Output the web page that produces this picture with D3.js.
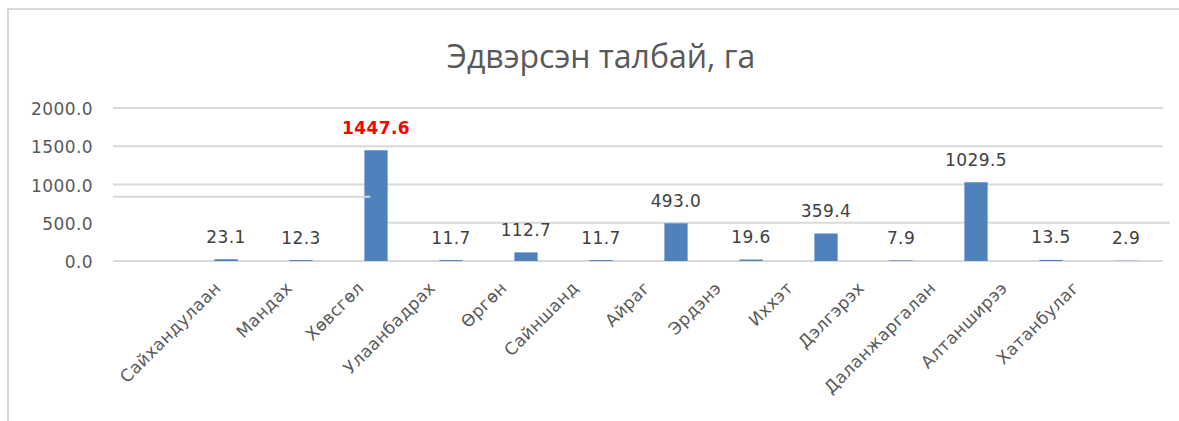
<!DOCTYPE html>
<html>
<head>
<meta charset="utf-8">
<script src="https://cdn.jsdelivr.net/npm/d3@7"></script>
<style>
  html, body { margin: 0; padding: 0; background: #fff; }
  svg { display: block; }
</style>
</head>
<body>
<div id="chart"></div>
<script>
(function () {

  // categories (the first slot of the source sheet is empty)
  var CATEGORIES = ["", "Сайхандулаан", "Мандах", "Хөвсгөл", "Улаанбадрах", "Өргөн",
    "Сайншанд", "Айраг", "Эрдэнэ", "Иххэт", "Дэлгэрэх", "Даланжаргалан",
    "Алтанширээ", "Хатанбулаг"];
  var VALUES = [null, 23.1, 12.3, 1447.6, 11.7, 112.7, 11.7, 493.0, 19.6, 359.4,
    7.9, 1029.5, 13.5, 2.9];
  var Y_TICKS = [0, 500, 1000, 1500, 2000];
  var HIGHLIGHT = "Хөвсгөл";

  var W = 1179, H = 421;
  var FONT = "'DejaVu Sans', sans-serif";

  var svg = d3.select("#chart").append("svg")
    .attr("width", W).attr("height", H)
    .style("font-family", FONT);

  // ── Frame (only top and left edges show) ───────────────────────────────
  svg.append("line").attr("x1", 7).attr("x2", W).attr("y1", 9).attr("y2", 9)
    .attr("stroke", "#d9d9d9").attr("stroke-width", 2);
  svg.append("line").attr("x1", 8).attr("x2", 8).attr("y1", 9).attr("y2", H)
    .attr("stroke", "#d9d9d9").attr("stroke-width", 2);

  // ── Title ─────────────────────────────────────────────────────────────
  svg.append("text")
    .attr("x", 601).attr("y", 68)
    .attr("text-anchor", "middle")
    .attr("font-family", "'Open Sans', sans-serif")
    .attr("font-size", "32px")
    .attr("fill", "#595959")
    .text("Эдвэрсэн талбай, га");

  // ── Scales ────────────────────────────────────────────────────────────
  var x = d3.scaleBand()
    .domain(CATEGORIES)
    .range([113.5, 1163.5])
    .paddingInner(0.69)
    .paddingOuter(0.345);

  var y = d3.scaleLinear().domain([0, 2000]).range([261, 108]);

  // label positions drift from the bars in the source picture
  var xLab = d3.scalePoint()
    .domain(CATEGORIES.slice(1))
    .range([222, 1080]);

  // ── Gridlines ─────────────────────────────────────────────────────────
  var grid = svg.append("g").attr("class", "grid")
    .attr("stroke", "#d9d9d9").attr("stroke-width", 2);

  Y_TICKS.forEach(function (t) {
    if (t === 500) return;
    grid.append("line")
      .attr("x1", 113).attr("x2", 1163)
      .attr("y1", y(t)).attr("y2", y(t));
  });
  // the 500 line is broken in the source image: left piece shifted up
  var hx = x(HIGHLIGHT);
  grid.append("line")
    .attr("x1", hx + x.bandwidth()).attr("x2", 1170)
    .attr("y1", y(500)).attr("y2", y(500));
  grid.append("line")
    .attr("x1", 113).attr("x2", hx + 6)
    .attr("y1", y(500) - 26).attr("y2", y(500) - 26);

  // ── Y axis labels ────────────────────────────────────────────────────
  svg.append("g")
    .selectAll("text")
    .data(Y_TICKS)
    .join("text")
    .attr("x", 93)
    .attr("y", function (d) { return y(d); })
    .attr("dy", "0.42em")
    .attr("text-anchor", "end")
    .attr("font-size", "17px")
    .attr("letter-spacing", "0.4px")
    .attr("fill", "#595959")
    .text(function (d) { return d3.format(".1f")(d); });

  // ── Bars ─────────────────────────────────────────────────────────────
  var data = CATEGORIES.map(function (c, i) { return { cat: c, v: VALUES[i] }; })
    .filter(function (d) { return d.v != null; });

  svg.append("g").attr("class", "bars")
    .selectAll("rect")
    .data(data)
    .join("rect")
    .attr("x", function (d) { return x(d.cat); })
    .attr("width", x.bandwidth())
    .attr("y", function (d) { return y(d.v); })
    .attr("height", function (d) { return y(0) - y(d.v); })
    .attr("fill", "#4f81bd");

  // the shifted segment overlaps the tall bar slightly
  svg.append("line")
    .attr("x1", hx).attr("x2", hx + 6)
    .attr("y1", y(500) - 26).attr("y2", y(500) - 26)
    .attr("stroke", "#d9d9d9").attr("stroke-width", 2);

  // ── Data labels ──────────────────────────────────────────────────────
  svg.append("g")
    .selectAll("text")
    .data(data)
    .join("text")
    .attr("x", function (d) { return x(d.cat) + x.bandwidth() / 2; })
    .attr("y", function (d) { return y(d.v) - 23; })
    .attr("dy", "0.38em")
    .attr("text-anchor", "middle")
    .attr("font-size", "17px")
    .attr("letter-spacing", "0.4px")
    .attr("font-weight", function (d) { return d.cat === HIGHLIGHT ? "bold" : "normal"; })
    .attr("fill", function (d) { return d.cat === HIGHLIGHT ? "#ff0000" : "#404040"; })
    .text(function (d) { return d3.format(".1f")(d.v); });

  // ── X axis labels ────────────────────────────────────────────────────
  svg.append("g")
    .selectAll("text")
    .data(CATEGORIES.slice(1))
    .join("text")
    .attr("transform", function (d) {
      return "translate(" + xLab(d) + ",289) rotate(-45)";
    })
    .attr("text-anchor", "end")
    .attr("font-size", "17px")
    .attr("letter-spacing", "0.4px")
    .attr("fill", "#595959")
    .text(function (d) { return d; });

})();
</script>
</body>
</html>
